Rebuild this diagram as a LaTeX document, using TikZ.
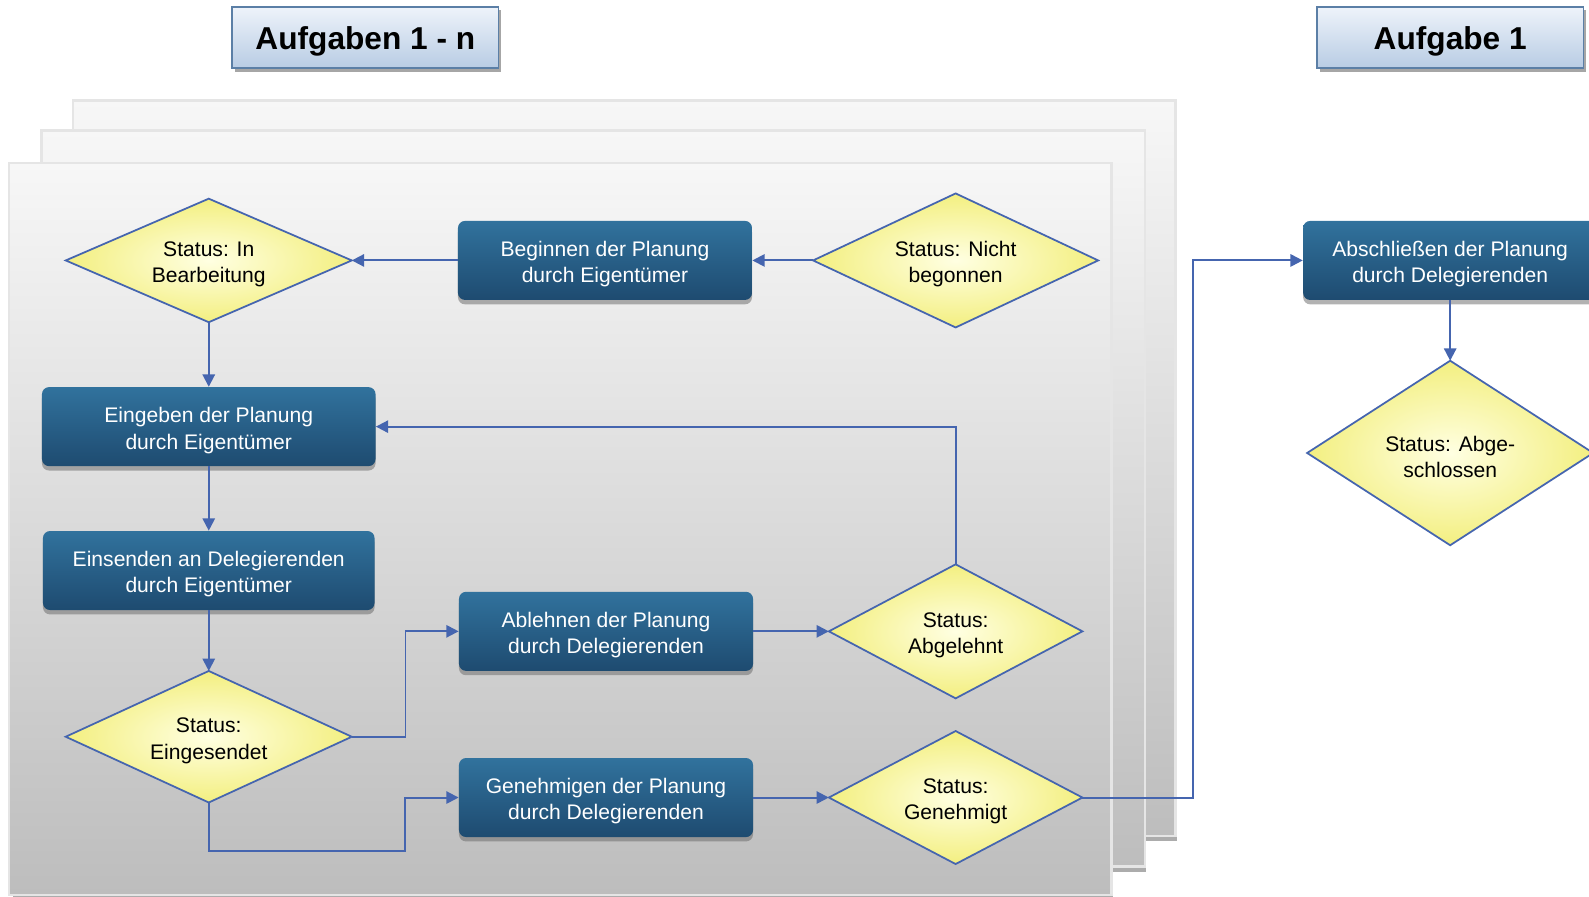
\documentclass[tikz,border=0pt]{standalone}
\usepackage{fontspec}
\setmainfont{Liberation Sans}
\usetikzlibrary{shapes.geometric,shadows,arrows.meta}
\definecolor{flowblue}{HTML}{4565AF}
\definecolor{boxtop}{HTML}{31729D}
\definecolor{boxbot}{HTML}{1E4B70}
\definecolor{headtop}{HTML}{EEF3FA}
\definecolor{headbot}{HTML}{B8CCE4}
\definecolor{headline}{HTML}{5B7FA6}
\definecolor{pagetop}{HTML}{F7F7F7}
\definecolor{pagebot}{HTML}{BDBDBD}
\definecolor{diamin}{HTML}{FFFFE2}
\definecolor{diamout}{HTML}{F3EF80}
\newcommand\txtup{\rule{0pt}{13pt}}
\begin{document}
\begin{tikzpicture}[x=0.020268cm, y=-0.020268cm,
	  headbox/.style={draw=headline, line width=1pt, top color=headtop, bottom color=headbot,
	    minimum width=5.33cm, minimum height=1.22cm, font=\fontsize{18}{22}\selectfont\bfseries,
	    execute at begin node={\rule{0pt}{17.5pt}},
	    drop shadow={shadow xshift=1.5pt, shadow yshift=-2pt, fill=gray!70, opacity=1}},
	  taskbox/.style={rounded corners=4pt, top color=boxtop, bottom color=boxbot, text=white,
	    minimum width=5.88cm, minimum height=1.58cm, align=center, font=\fontsize{12}{15}\selectfont,
	    drop shadow={shadow xshift=0pt, shadow yshift=-2.5pt, fill=black!60, opacity=.5}},
	  statebox/.style={diamond, shape aspect=2.3, draw=flowblue, line width=1pt, inner color=diamin, outer color=diamout,
	    inner sep=0pt, outer sep=0pt, align=center, font=\fontsize{12}{15}\selectfont},
	  flow/.style={draw=flowblue, line width=1.1pt, -{Triangle[length=7pt,width=7pt]}}]
	  \useasboundingbox (0,0) rectangle (1568,885);
	  % stacked pages
	  \foreach \px/\py/\qx/\qy in {72/99/1160/825, 41/129/1130/855, 9/161/1097/883}{
	    \fill[gray!65] (\px+4,\qy) rectangle (\qx+1,\qy+5);
	    \shade[top color=pagetop, bottom color=pagebot] (\px,\py) rectangle (\qx,\qy);
	    \draw[gray!20, line width=1.5pt] (\px,\py) rectangle (\qx,\qy);
	  }
	  \node[headbox] (hdmulti) at (360.5,37) {Aufgaben 1 - n};
	  \node[headbox] (hdsingle) at (1431,37) {Aufgabe 1};
	  % states
	  \node[statebox, minimum width=5.72cm, minimum height=2.47cm] (inbearb) at (206,257) {\txtup Status: In\\Bearbeitung};
	  \node[statebox, minimum width=5.70cm, minimum height=2.68cm] (nicht) at (943,257) {\txtup Status: Nicht\\begonnen};
	  \node[statebox, minimum width=5.07cm, minimum height=2.68cm] (abgelehnt) at (943,623) {\txtup Status:\\Abgelehnt};
	  \node[statebox, minimum width=5.72cm, minimum height=2.63cm] (eingesendet) at (206,727) {\txtup Status:\\Eingesendet};
	  \node[statebox, minimum width=5.07cm, minimum height=2.66cm] (genehmigt) at (943,787) {\txtup Status:\\Genehmigt};
	  \node[statebox, minimum width=5.72cm, minimum height=3.69cm] (abgeschl) at (1431,447) {\txtup Status: Abge-\\schlossen};
	  % tasks
	  \node[taskbox] (beginnen) at (597,257) {\txtup Beginnen der Planung\\durch Eigentümer};
	  \node[taskbox, minimum width=6.67cm] (eingeben) at (206,421) {\txtup Eingeben der Planung\\durch Eigentümer};
	  \node[taskbox, minimum width=6.63cm] (einsenden) at (206,563) {\txtup Einsenden an Delegierenden\\durch Eigentümer};
	  \node[taskbox] (ablehnen) at (598,623) {\txtup Ablehnen der Planung\\durch Delegierenden};
	  \node[taskbox] (genehmigen) at (598,787) {\txtup Genehmigen der Planung\\durch Delegierenden};
	  \node[taskbox] (abschliessen) at (1431,257) {\txtup Abschließen der Planung\\durch Delegierenden};
	  \coordinate (jog) at (400,840);
	  % connectors
	  \draw[flow] (nicht.west) -- (beginnen.east);
	  \draw[flow] (beginnen.west) -- (inbearb.east);
	  \draw[flow] (inbearb.south) -- (eingeben.north);
	  \draw[flow] (eingeben.south) -- (einsenden.north);
	  \draw[flow] (einsenden.south) -- (eingesendet.north);
	  \draw[flow] (eingesendet.east) -- ++(53,0) |- (ablehnen.west);
	  \draw[flow] (eingesendet.south) |- (jog) |- (genehmigen.west);
	  \draw[flow] (ablehnen.east) -- (abgelehnt.west);
	  \draw[flow] (genehmigen.east) -- (genehmigt.west);
	  \draw[flow] (abgelehnt.north) |- (eingeben.east);
	  \draw[flow] (genehmigt.east) -- ++(109,0) |- (abschliessen.west);
	  \draw[flow] (abschliessen.south) -- (abgeschl.north);
	\end{tikzpicture}
\end{document}
